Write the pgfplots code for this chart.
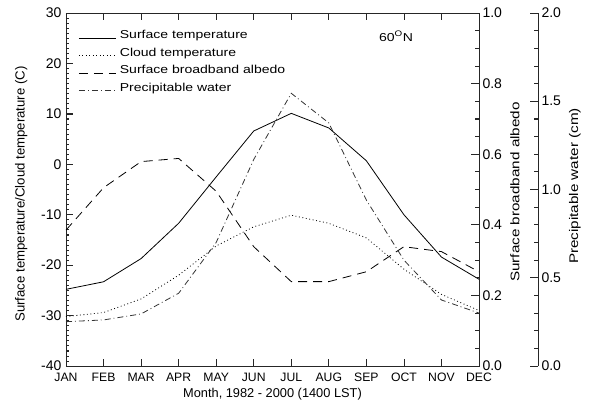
\documentclass[border=0pt]{standalone}
\usepackage{fontspec}
\setmainfont{Liberation Sans}
\newfontfamily\idlfont{Liberation Sans}[FakeStretch=1.22]
\usepackage{pgfplots}
\usepackage{pgfplotstable}
\pgfplotsset{compat=1.18}
\pgfplotstableread{
m  ts     tc     alb    pw
0  -24.8  -30.2  0.385  0.251
1  -23.3  -29.4  0.505  0.261
2  -18.7  -26.7  0.579  0.295
3  -11.7  -22.0  0.588  0.412
4  -2.5   -16.2  0.495  0.700
5   6.6   -12.4  0.338  1.170
6  10.1   -10.1  0.239  1.545
7   7.2   -11.7  0.239  1.377
8   0.7   -14.6  0.267  0.940
9  -10.0  -20.8  0.338  0.600
10 -18.4  -25.8  0.324  0.374
11 -22.8  -29.0  0.267  0.300
}\datatab
\pgfplotsset{
  myticks/.style={tick align=inside, major tick length=7pt, minor tick length=3.5pt,
    tick style={draw=black!85, line width=0.7pt}},
}
\begin{document}
\begin{tikzpicture}[font=\fontsize{11.5}{13.8}\selectfont]
\useasboundingbox (-66pt,-37pt) rectangle (523pt,366pt);
\tikzset{
  lnSurf/.style={black, line width=0.8pt},
  lnCloud/.style={black, line width=0.8pt, dash pattern=on 0.9pt off 2.6pt},
  lnAlb/.style={black, line width=0.8pt, dash pattern=on 9pt off 6pt},
  lnPrec/.style={black!80, line width=0.8pt, dash pattern=on 6pt off 3pt on 0.9pt off 3pt},
  tk/.style={fill=black!85, draw=none},
}
% left axis: temperatures
\begin{axis}[
  scale only axis, width=413pt, height=353pt,
  xmin=0, xmax=11, ymin=-40, ymax=30, clip=false,
  myticks,
  axis line style={line width=0.7pt, black!85},
  xtick={0,...,11},
  xticklabels={JAN,FEB,MAR,APR,MAY,JUN,JUL,AUG,SEP,OCT,NOV,DEC},
  xtick pos=both, ytick pos=left,
  ytick={-40,-30,...,30}, minor y tick num=9,
  xticklabel style={yshift=-3.5pt, font=\fontsize{12.2}{14}\selectfont},
  yticklabel style={xshift=-1pt, font=\fontsize{14}{16}\selectfont},
  yticklabel={\pgfmathprintnumber[assume math mode=true]{\tick}},
  xlabel={Month, 1982 - 2000 (1400 LST)},
  xlabel style={at={(axis description cs:0.5,0)}, anchor=center, yshift=-28.5pt, font=\fontsize{12.8}{15}\selectfont},
  ylabel={Surface temperature/Cloud temperature (C)},
  ylabel style={at={(axis description cs:-0.1085,0.487)}, anchor=center, rotate=0, font=\fontsize{13.2}{15}\selectfont},
  legend style={draw=none, fill=none, at={(axis description cs:0.03,0.958)}, anchor=north west,
    row sep=2.5pt, inner sep=0pt, nodes={inner sep=1.5pt, text height=9pt, text depth=3pt, font=\idlfont\fontsize{11.5}{13.8}\selectfont}},
  legend cell align=left,
  legend image code/.code={\path (0pt,3pt); \draw[#1] (0pt,-2.5pt) -- (37pt,-2.5pt); \path (39pt,0pt);},
]
\addplot[lnSurf] table[x=m, y=ts] {\datatab};
\addlegendentry{Surface temperature}
\addplot[lnCloud] table[x=m, y=tc] {\datatab};
\addlegendentry{Cloud temperature}
\addlegendimage{lnAlb}
\addlegendentry{Surface broadband albedo}
\addlegendimage{lnPrec}
\addlegendentry{Precipitable water}
\node[anchor=center, font=\idlfont\fontsize{11.5}{13.8}\selectfont] at (axis cs:8.79,25.4) {60\textsuperscript{O}N};
% month ticks, bottom and top
\pgfplotsinvokeforeach{0,1,2,3,4,5,6,7,8,9,10,11}{
  \path[tk] (axis cs:#1,-40) ++(-0.4pt,0pt) rectangle ++(0.8pt,6pt);
  \path[tk] (axis cs:#1,30) ++(-0.4pt,0pt) rectangle ++(0.8pt,-6pt);
}
% left temperature axis: minor every 1, major every 10
\pgfplotsinvokeforeach{-39,-38,-37,-36,-35,-34,-33,-32,-31,-29,-28,-27,-26,-25,-24,-23,-22,-21,-19,-18,-17,-16,-15,-14,-13,-12,-11,-9,-8,-7,-6,-5,-4,-3,-2,-1,1,2,3,4,5,6,7,8,9,11,12,13,14,15,16,17,18,19,21,22,23,24,25,26,27,28,29}{
  \path[tk] (axis cs:0,#1) ++(0pt,-0.4pt) rectangle ++(3.5pt,0.8pt);
}
\pgfplotsinvokeforeach{-40,-30,-20,-10,0,10,20,30}{
  \path[tk] (axis cs:0,#1) ++(0pt,-0.4pt) rectangle ++(7pt,0.8pt);
}
% albedo axis (x = 11): minor every 0.05, major every 0.2 (y = -40 + 70 a)
\pgfplotsinvokeforeach{-36.5,-33,-29.5,-22.5,-19,-15.5,-8.5,-5,-1.5,5.5,9,12.5,19.5,23,26.5}{
  \path[tk] (axis cs:11,#1) ++(0pt,-0.4pt) rectangle ++(-4.5pt,0.8pt);
}
\pgfplotsinvokeforeach{-40,-26,-12,2,16,30}{
  \path[tk] (axis cs:11,#1) ++(0pt,-0.4pt) rectangle ++(-8.5pt,0.8pt);
}
% precipitable water axis (x = 12.5714): minor every 0.1, major every 0.5 (y = -40 + 35 p)
\pgfplotsinvokeforeach{-36.5,-33,-29.5,-26,-19,-15.5,-12,-8.5,-1.5,2,5.5,9,16,19.5,23,26.5}{
  \path[tk] (axis cs:12.5714,#1) ++(0pt,-0.4pt) rectangle ++(-4.5pt,0.8pt);
}
\pgfplotsinvokeforeach{-40,-22.5,-5,12.5,30}{
  \path[tk] (axis cs:12.5714,#1) ++(0pt,-0.4pt) rectangle ++(-8.5pt,0.8pt);
}
\end{axis}
% albedo axis
\begin{axis}[
  scale only axis, width=413pt, height=353pt,
  xmin=0, xmax=11, ymin=0, ymax=1,
  myticks, major tick length=8.5pt, minor tick length=4.5pt,
  axis line style={line width=0.7pt, black!85},
  hide x axis, axis y line*=right,
  ytick={0,0.2,...,1.0}, minor y tick num=3,
  yticklabel style={font=\fontsize{14}{16}\selectfont},
  yticklabel={\pgfmathprintnumber[assume math mode=true, fixed, fixed zerofill, precision=1]{\tick}},
  ylabel={Surface broadband albedo},
  ylabel style={at={(axis description cs:1.087,0.493)}, anchor=center, rotate=0, font=\idlfont\fontsize{12.5}{15}\selectfont},
]
\addplot[lnAlb] table[x=m, y=alb] {\datatab};
\end{axis}
% precipitable water axis (offset to the right)
\begin{axis}[
  scale only axis, width=472pt, height=353pt,
  xmin=0, xmax=12.5714, ymin=0, ymax=2,
  myticks, major tick length=8.5pt, minor tick length=4.5pt,
  axis line style={line width=0.7pt, black!85},
  hide x axis, axis y line*=right,
  ytick={0,0.5,...,2.0}, minor y tick num=4,
  yticklabel style={font=\fontsize{14}{16}\selectfont},
  yticklabel={\pgfmathprintnumber[assume math mode=true, fixed, fixed zerofill, precision=1]{\tick}},
  ylabel={Precipitable water (cm)},
  ylabel style={at={(axis description cs:1.0784,0.51)}, anchor=center, rotate=0, font=\idlfont\fontsize{12.5}{15}\selectfont},
]
\addplot[lnPrec] table[x=m, y=pw] {\datatab};
\end{axis}
\end{tikzpicture}
\end{document}
